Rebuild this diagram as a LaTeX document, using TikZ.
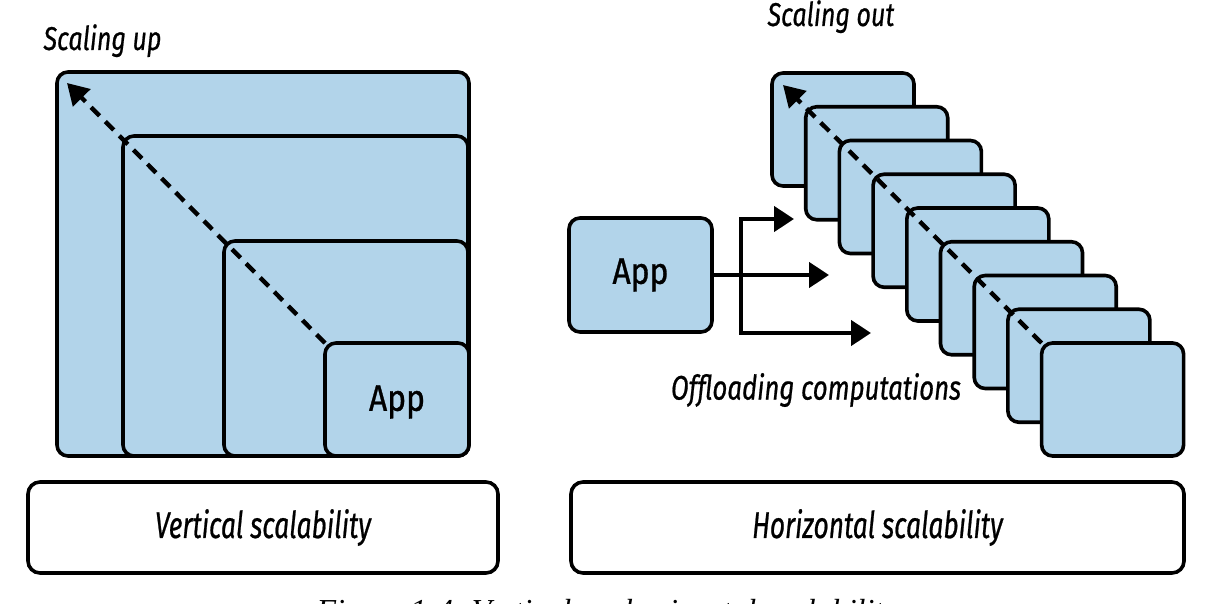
\documentclass[tikz,border=0pt]{standalone}
\usepackage{fontspec}
\usetikzlibrary{arrows.meta,calc}
\newfontfamily\diagfont[FakeStretch=0.76,FakeBold=0.6]{Fira Sans}
\newfontfamily\labelfont[FakeStretch=0.71,FakeBold=0.6]{Fira Sans}
\newfontfamily\appfont[FakeStretch=0.86,FakeBold=0.8]{Fira Sans}
\newfontfamily\capfont{Liberation Serif}
\definecolor{appblue}{RGB}{178,212,234}
\tikzset{
  box/.style={draw, line width=3.6pt, rounded corners=11pt, fill=appblue,
    anchor=north west, inner sep=0pt, outer sep=0pt},
  labelbox/.style={draw, line width=3.6pt, rounded corners=12pt, fill=white,
    anchor=north west, inner sep=0pt, outer sep=0pt,
    minimum width=#1, minimum height=91pt},
  dasharrow/.style={line width=4.4pt, dash pattern=on 12pt off 8pt,
    -{Triangle[length=21pt,width=24pt]}},
  forkarrow/.style={line width=4.4pt, -{Triangle[length=20pt,width=25pt]}},
  itxt/.style={font=\diagfont\itshape\fontsize{33}{38}\selectfont},
  bigitxt/.style={font=\labelfont\itshape\fontsize{37}{42}\selectfont},
  apptxt/.style={font=\appfont\fontsize{37}{42}\selectfont},
}
\begin{document}
\begin{tikzpicture}[x=1pt,y=-1pt]
\useasboundingbox (0,0) rectangle (1214,604);

% ---- vertical scalability: nested boxes ----
\node[itxt, anchor=base west] (up) at (40,50) {Scaling up};
\node[box, minimum width=412pt, minimum height=384pt] (v1) at (57,72) {};
\node[box, minimum width=345pt, minimum height=320pt] (v2) at (123,136) {};
\node[box, minimum width=244pt, minimum height=215pt] (v3) at (224,241) {};
\node[box, minimum width=144pt, minimum height=113pt] (v4) at (325,343) {};
\node[apptxt] (appL) at (397,402) {App};
\coordinate (tipL) at (67,83);
\draw[dasharrow] (v4.north west) -- (tipL);

\node[labelbox=470pt] (vlab) at (28,482) {};
\node[bigitxt] at (vlab.center) {Vertical scalability};

% ---- horizontal scalability: stacked copies ----
\node[itxt, anchor=base west] (out) at (764,26) {Scaling out};
\foreach \i in {0,...,8} {
  \node[box, minimum width=142pt, minimum height=113pt] (h\i)
    at ({772+33.7*\i},{73+33.75*\i}) {};
}
\coordinate (tipR) at (783,85);
\draw[dasharrow] (h8.north west) -- (tipR);

\node[box, minimum width=143pt, minimum height=114pt] (app) at (569,218) {};
\node[apptxt] at (app.center) {App};
\coordinate (fork) at (741,275);
\coordinate (t1) at (794,219);
\coordinate (t2) at (829,275);
\coordinate (t3) at (871,333);
\draw[forkarrow] (app.east) -- (t2);
\draw[forkarrow, rounded corners=0pt] (fork) |- (t1);
\draw[forkarrow, rounded corners=0pt] (fork) |- (t3);
\node[itxt, font=\diagfont\itshape\fontsize{34}{39}\selectfont] (off) at (816,390) {Offloading computations};

\node[labelbox=613pt] (hlab) at (571,482) {};
\node[bigitxt] at (hlab.center) {Horizontal scalability};

% ---- figure caption ----
\node[font=\capfont\itshape\fontsize{32}{38}\selectfont, anchor=base] (cap)
  at (607,621) {Figure 1-4. Vertical vs. horizontal scalability};
\end{tikzpicture}
\end{document}
